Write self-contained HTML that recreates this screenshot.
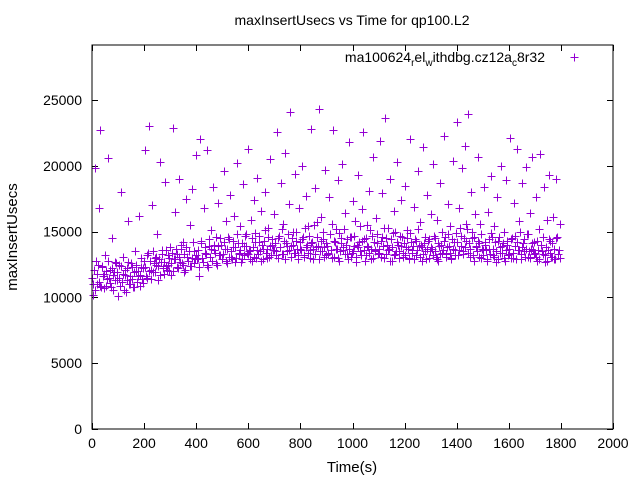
<!DOCTYPE html>
<html><head><meta charset="utf-8"><style>
body{margin:0;background:#fff;}
svg{display:block;font-family:"Liberation Sans",sans-serif;}
</style></head><body>
<svg id="chart" width="640" height="480" viewBox="0 0 640 480">
<rect width="640" height="480" fill="#fff"/>
<text x="352" y="25" font-size="14" text-anchor="middle">maxInsertUsecs vs Time for qp100.L2</text>
<text x="352" y="472" font-size="15" text-anchor="middle">Time(s)</text>
<text x="0" y="0" font-size="15" text-anchor="middle" transform="translate(17,237) rotate(-90)">maxInsertUsecs</text>
<g id="ticks"></g>
<g id="points"></g>
<rect x="92" y="45" width="521" height="384" fill="none" stroke="#000" stroke-width="1"/>
<g>
<text x="545" y="62" font-size="14" text-anchor="end">ma100624<tspan font-size="10" dy="4">r</tspan><tspan dy="-4">el</tspan><tspan font-size="10" dy="4">w</tspan><tspan dy="-4">ithdbg.cz12a</tspan><tspan font-size="10" dy="4">c</tspan><tspan dy="-4">8r32</tspan></text>
<path d="M570.5 57.5h8M574.5 53.5v8" stroke="#9400d3" stroke-width="1"/>
</g>
</svg>
<script>
const xTicks=[0,200,400,600,800,1000,1200,1400,1600,1800,2000];
const yTicks=[0,5000,10000,15000,20000,25000];
const sampleStart=0;
const sampleInterval=5;
const values=[
11500,10200,19800,12800,11000,16800,22700,10800,12400,11800,13200,10900,20600,11500,12100,14500,10600,11900,12700,11300,
10100,12500,18000,11200,13100,11700,10400,12200,15800,11000,12600,11400,10800,13500,12000,11600,16200,10900,12300,11100,
12800,21200,11500,13400,23000,12100,17000,11900,13000,12500,14800,11300,20300,12700,13600,11800,18800,12400,13200,12000,
13800,11700,22900,12900,16500,13300,12200,19000,13700,12600,14200,11900,17500,13100,12800,15500,12400,18200,13500,12900,
20800,13000,11600,22000,14300,12700,16800,13400,21200,12300,13900,15100,12800,18400,13600,14600,12500,17200,13200,14000,
12900,19600,13700,15800,12600,14400,17800,13100,13800,16200,12700,20200,14100,13300,15400,12900,18600,13900,14800,13400,
21300,13600,15900,12800,17400,14200,13000,19100,14700,13500,16600,12900,14300,18000,13700,15300,13100,20500,14000,13600,
16300,13200,22600,14500,13800,18700,13300,15600,21000,14100,13500,17100,24100,13900,15000,13400,19400,14300,12900,16800,
13700,20000,14600,13200,17700,14000,15400,13600,22800,14200,12900,18300,13800,15700,24300,13500,16100,14400,13100,19700,
14100,13400,17600,14800,13000,22700,14300,15200,13700,18900,12800,14500,20100,13600,16400,14000,13300,21800,14600,13100,
17300,13900,15800,12700,19300,14200,13500,16700,22600,14400,13200,15500,13800,18100,12900,14700,20700,13600,16000,14100,
13400,21900,14300,17900,13000,23600,14500,15300,13700,19000,12800,14900,16600,13300,20300,14000,13500,17400,14600,13100,
18500,13800,15100,12900,22000,14200,13600,16900,14400,13200,19600,13900,15700,12800,21400,14100,13500,17800,14300,13000,
16300,13700,20100,14500,13100,15900,12800,18700,14000,13400,22300,14600,13300,17100,13900,15400,12900,20400,14200,13600,
23300,13200,16800,14700,19800,13500,21500,14300,15200,23900,13100,18000,14500,12800,16300,13800,20700,14100,15600,13000,
13600,18400,14200,12900,16500,13700,19200,14600,13200,15400,12700,17600,14300,13400,20000,13900,15000,12800,18900,14000,
13300,22100,14400,13000,17200,14700,21300,13600,15800,12900,18700,14100,13500,19900,14800,13100,16400,13700,20700,14200,
13400,17600,12800,15200,20900,14000,13300,18400,12700,15900,13600,19300,14300,13100,16100,12900,19000,14600,13300,15600
];
const bandValues=[
11000,12100,10600,11800,12500,11200,10900,12300,11600,10700,12000,11400,12800,11100,10800,12200,11700,11300,12600,11900,
11500,10900,12400,11800,10600,12100,11300,12700,11000,11600,12300,10800,11900,12500,11200,12000,11700,13000,11400,12200,
12300,11600,13200,12000,12800,11400,13500,12600,11900,13100,12400,12900,11700,13300,12200,12700,13600,12100,12500,13000,
12600,13400,12000,12900,13700,12300,13100,12700,14000,12500,13300,12100,13800,12800,13500,12400,13000,14200,12600,13200,
12900,13600,12300,14100,13000,12700,13800,13300,12500,14400,13100,13700,12800,14000,13400,12600,13900,13200,14500,12900,
13300,14200,12800,13700,14600,13100,13500,12900,14300,13800,13000,14800,13400,13600,12700,14100,13200,14700,13900,13300,
13500,12900,14500,13800,13100,14900,13600,13300,14200,12800,14000,13700,15100,13400,13000,14600,13900,13200,14400,13600,
14100,13500,13000,14700,13800,15200,13300,14300,12900,13900,14800,13600,13100,14500,14000,13400,15000,13700,13200,14200,
13600,14400,13100,15300,13800,13400,14700,13000,14100,13700,15500,13300,14600,13900,12900,14300,13500,15000,13800,13200,
13900,13300,14800,13600,15600,13100,14200,13700,13000,14900,13500,14100,13800,15200,13300,14400,12900,13700,14600,13400,
13500,14700,13100,14000,13800,15400,13200,14300,13600,12800,14500,13900,13400,15100,13700,13000,14200,13500,14800,13300,
13700,13100,14600,13900,15300,13300,14000,13600,12800,14400,13800,13200,15000,13500,14200,13000,14700,13900,13400,14100,
13200,14500,13700,13000,14900,13400,13900,12900,14300,13600,15200,13100,14000,13800,13300,14600,12900,13700,14400,13500,
13800,13200,14700,13500,12900,14100,13900,13300,15000,13600,14300,13100,13800,14800,13400,13000,14400,13700,13200,14900,
14200,13600,15300,13900,13300,14500,13800,15600,13400,14100,13700,15000,13200,14600,13900,13500,14300,13100,14800,13700,
13200,14000,13600,12800,14400,13300,14900,13700,13100,14200,13500,12900,14600,13800,13400,14100,13000,13600,14300,13200,
13700,13000,14500,13400,13900,12900,14200,13600,15000,13300,13800,14400,13100,13700,14800,13500,13000,14100,13600,13300,
13100,14300,13600,12900,14000,13500,14600,13200,13800,12800,14400,13400,13100,14100,13700,12900,14500,13300,13600,13000
];
const NS="http://www.w3.org/2000/svg";
const X0=92,X1=613,Y0=429,PXPER=329/25000;
function xs(t){return X0+(t-0)/(2000-0)*(X1-X0);}
function ys(v){return Y0-v*PXPER;}
const tg=document.getElementById('ticks');
xTicks.forEach(t=>{
  const x=Math.round(xs(t))+0.5;
  const p=document.createElementNS(NS,'path');
  p.setAttribute('d',`M${x} 429v-6M${x} 45v6`);
  p.setAttribute('stroke','#000');
  
  
  tg.appendChild(p);
  const l=document.createElementNS(NS,'text');
  l.setAttribute('x',xs(t));l.setAttribute('y',448);
  l.setAttribute('font-size','14');l.setAttribute('text-anchor','middle');
  
  
  l.textContent=t;tg.appendChild(l);
});
yTicks.forEach(v=>{
  const y=Math.round(ys(v))+0.5;
  const p=document.createElementNS(NS,'path');
  p.setAttribute('d',`M92 ${y}h6M613 ${y}h-6`);
  p.setAttribute('stroke','#000');
  
  
  tg.appendChild(p);
  const l=document.createElementNS(NS,'text');
  l.setAttribute('x',82);l.setAttribute('y',ys(v)+5);
  l.setAttribute('font-size','14');l.setAttribute('text-anchor','end');
  
  
  l.textContent=v;tg.appendChild(l);
});
const pg=document.getElementById('points');
function drawPoint(t,v){
  const x=Math.round(xs(t))+0.5,y=Math.round(ys(v))+0.5;
  const p=document.createElementNS(NS,'path');
  p.setAttribute('d',`M${x-4} ${y}h8M${x} ${y-4}v8`);
  p.setAttribute('stroke','#9400d3');
  
  
  pg.appendChild(p);
}
values.forEach((v,i)=>drawPoint(sampleStart+i*sampleInterval,v));
bandValues.forEach((v,i)=>drawPoint(sampleStart+2.5+i*sampleInterval,v));
</script>
</body></html>
